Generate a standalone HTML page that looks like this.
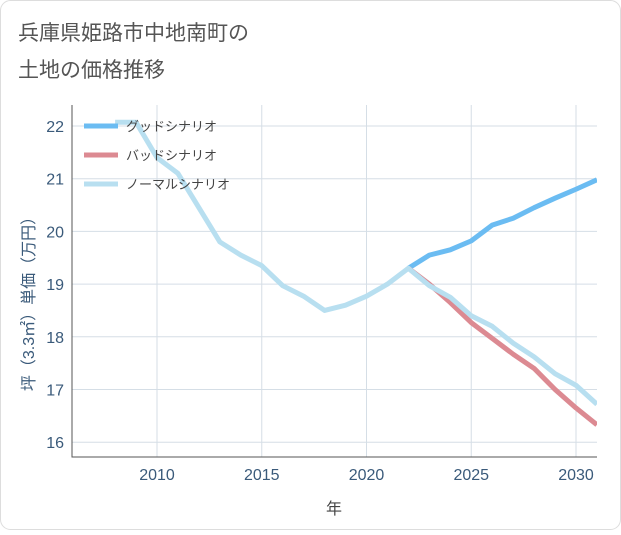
<!DOCTYPE html>
<html><head><meta charset="utf-8"><style>
body{margin:0;background:#fff;font-family:"Liberation Sans","Noto Sans CJK JP",sans-serif}
#wrap{position:relative;width:621px;height:530px;}
</style></head><body>
<div id="wrap">
<svg id="svg" width="621" height="530">
<rect x="0.5" y="0.5" width="620" height="529" rx="10" fill="#fff" stroke="#ddd"/>
<text x="18" y="40" font-size="21" fill="#555">兵庫県姫路市中地南町の</text>
<text x="18" y="77" font-size="21" fill="#555">土地の価格推移</text>
<g id="grid"></g>
<g id="series"></g>
<g id="legend"></g>
<text x="334" y="514" font-size="16" fill="#444" text-anchor="middle">年</text>
<text transform="translate(34,300) rotate(-90)" font-size="16" fill="#3a5a7a" text-anchor="middle">坪（3.3㎡）単価（万円）</text>
</svg>
</div>
<script>
const years=[2008,2009,2010,2011,2012,2013,2014,2015,2016,2017,2018,2019,2020,2021,2022,2023,2024,2025,2026,2027,2028,2029,2030,2031];
const normal=[22.07,22.07,21.4,21.1,20.45,19.8,19.55,19.35,18.97,18.77,18.5,18.6,18.77,19.0,19.3,18.97,18.75,18.4,18.2,17.88,17.62,17.3,17.08,16.72];
const goodYears=[2022,2023,2024,2025,2026,2027,2028,2029,2030,2031];
const good=[19.3,19.55,19.65,19.82,20.12,20.25,20.45,20.63,20.8,20.98];
const bad=[19.3,19.0,18.65,18.27,17.97,17.67,17.4,17.0,16.65,16.33];
const xTicks=[2010,2015,2020,2025,2030];
const yTicks=[16,17,18,19,20,21,22];
const legendLabels=["グッドシナリオ","バッドシナリオ","ノーマルシナリオ"];
const colors=["#6bbcf2","#dc8a92","#b8dff0"];
const L=72,R=597,T=105,B=457;
const X=y=>157+(y-2010)*20.95;
const Y=v=>126+(22-v)*52.7;
const NS="http://www.w3.org/2000/svg";
function mk(t,a,p){const e=document.createElementNS(NS,t);for(const k in a)e.setAttribute(k,a[k]);p.appendChild(e);return e;}
const g=document.getElementById('grid');
xTicks.forEach(t=>{const l=mk('line',{x1:X(t),x2:X(t),y1:T,y2:B,stroke:'#d5dee6'},g);
const tx=mk('text',{x:X(t),y:480,'font-size':16,fill:'#3a5a7a','text-anchor':'middle'},g);tx.textContent=t;});
yTicks.forEach(t=>{const l=mk('line',{x1:L,x2:R,y1:Y(t),y2:Y(t),stroke:'#d5dee6'},g);
const tx=mk('text',{x:64,y:Y(t)+6,'font-size':16,fill:'#3a5a7a','text-anchor':'end'},g);tx.textContent=t;});
const ax=mk('path',{d:`M${L},${T}V${B}H${R}`,fill:'none',stroke:'#555'},g);
const s=document.getElementById('series');
const cp=mk('clipPath',{id:'cp'},s);mk('rect',{x:L,y:T,width:R-L,height:B-T},cp);
function line(xs,vs,c,n){const p=mk('polyline',{points:xs.map((y,i)=>X(y)+','+Y(vs[i])).join(' '),fill:'none',stroke:c,'stroke-width':5,'stroke-linejoin':'round','clip-path':'url(#cp)'},s);}
line(goodYears,good,colors[0],'good-scenario-line');
line(goodYears,bad,colors[1],'bad-scenario-line');
line(years,normal,colors[2],'normal-scenario-line');
const lg=document.getElementById('legend');
legendLabels.forEach((t,i)=>{const y=126+i*29;
const l=mk('line',{x1:84,x2:118,y1:y,y2:y,stroke:colors[i],'stroke-width':5},lg);
const tx=mk('text',{x:126,y:y+5,'font-size':13,fill:'#444'},lg);tx.textContent=t;});
</script>
</body></html>
